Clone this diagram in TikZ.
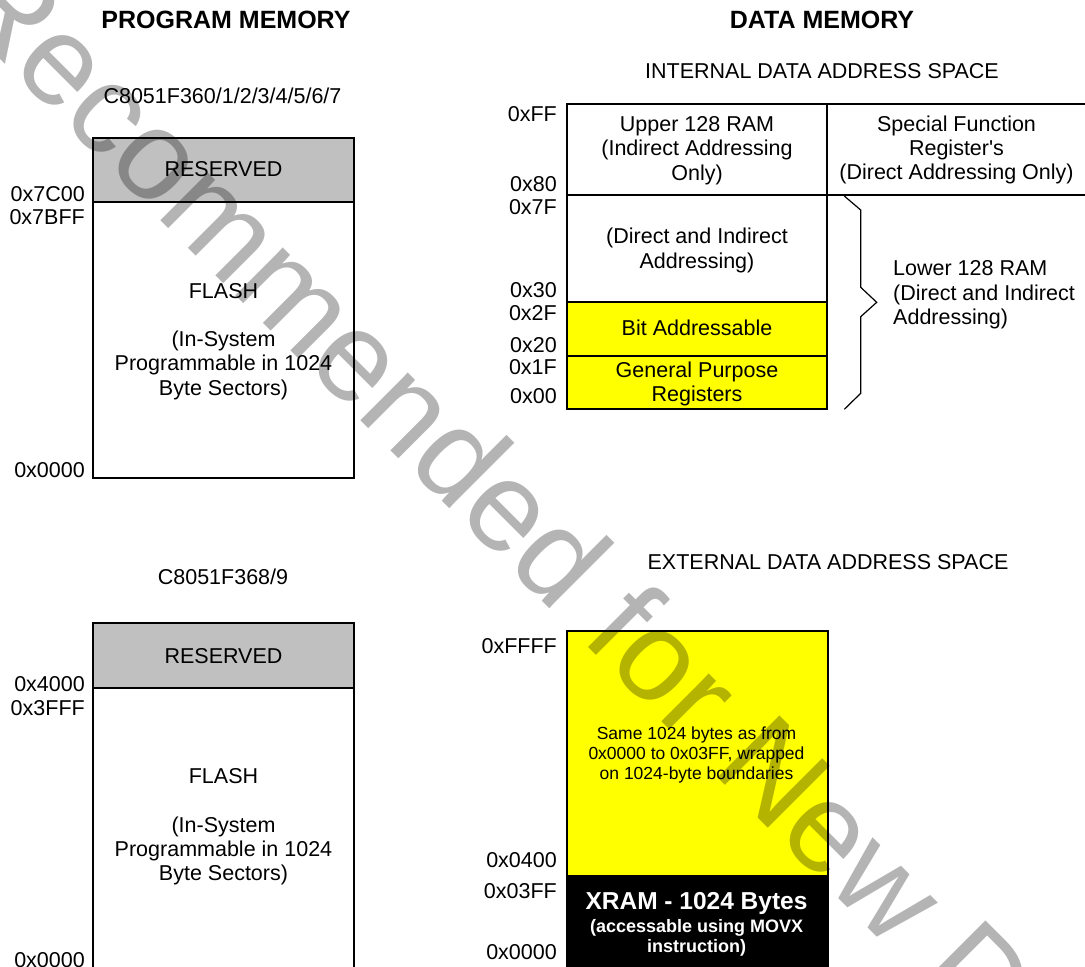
\documentclass[tikz,border=0pt]{standalone}
\usepackage{fontspec}
\setmainfont{Liberation Sans}[Ligatures=TeXOff]
\definecolor{resgray}{RGB}{192,192,192}
\definecolor{memyellow}{RGB}{255,255,0}
\definecolor{wmgray}{RGB}{180,180,180}
\tikzset{
  box/.style={draw=black, line width=2pt},
  lbl/.style={font=\fontsize{21.5}{24.3}\selectfont, inner sep=0pt, align=center},
  addr/.style={font=\fontsize{21.5}{24.3}\selectfont, inner sep=0pt, anchor=base east},
  head/.style={font=\fontsize{25}{28}\selectfont\bfseries, inner sep=0pt, anchor=base},
  subhead/.style={font=\fontsize{21.5}{24.3}\selectfont, inner sep=0pt, anchor=base},
  smalltxt/.style={font=\fontsize{17.5}{20}\selectfont, inner sep=0pt, align=center},
  bracestyle/.style={draw=black, line width=1.2pt, line join=miter},
  watermark/.style={font=\fontsize{127.5}{127.5}\selectfont, text=wmgray, inner sep=0pt, anchor=base west, rotate=-45}
}
\begin{document}
\begin{tikzpicture}[x={(1pt,0pt)}, y={(0pt,-1pt)}]
\useasboundingbox (0,0) rectangle (1085,967);
\clip (0,0) rectangle (1085,967);
\fill[white] (0,0) rectangle (1085,967);

% ---------- headings ----------
\node[head] (pmhead) at (226,28) {PROGRAM MEMORY};
\node[head] (dmhead) at (822,28) {DATA MEMORY};
\node[subhead] (dev1) at (222.5,103.7) {C8051F360/1/2/3/4/5/6/7};
\node[subhead] (dev2) at (223,584.7) {C8051F368/9};
\node[subhead] (intsp) at (822,78.7) {INTERNAL DATA ADDRESS SPACE};
\node[subhead] (extsp) at (828,569.7) {EXTERNAL DATA ADDRESS SPACE};

% ---------- program memory 1 ----------
\fill[resgray] (93,138) rectangle (354,202);
\draw[box] (93,138) rectangle (354,478);
\draw[box] (93,202) -- (354,202);
\node[subhead] (res1) at (223.5,176.7) {RESERVED};
\node[lbl] (flash1) at (223.5,341.5) {FLASH\\[24pt](In-System\\Programmable in 1024\\Byte Sectors)};
\node[addr] (a7c00) at (85,201.7) {0x7C00};
\node[addr] (a7bff) at (85,224.7) {0x7BFF};
\node[addr] (a0000p1) at (85,477.7) {0x0000};

% ---------- program memory 2 ----------
\fill[resgray] (93,623) rectangle (354,688);
\draw[box] (93,623) rectangle (354,985);
\draw[box] (93,688) -- (354,688);
\node[subhead] (res2) at (223.5,663.7) {RESERVED};
\node[lbl] (flash2) at (223.5,827) {FLASH\\[24pt](In-System\\Programmable in 1024\\Byte Sectors)};
\node[addr] (a4000) at (85,691.7) {0x4000};
\node[addr] (a3fff) at (85,715.7) {0x3FFF};
\node[addr] (a0000p2) at (85,967.2) {0x0000};

% ---------- internal data ----------
\fill[memyellow] (567,302) rectangle (827,409);
\draw[box] (567,104) rectangle (827,409);
\draw[box] (827,104) -- (1090,104);
\draw[box] (567,195) -- (1090,195);
\draw[box] (567,302) -- (827,302);
\draw[box] (567,356) -- (827,356);
\node[lbl] (upper) at (697,150.5) {Upper 128 RAM\\(Indirect Addressing\\Only)};
\node[lbl] (sfr) at (956.5,150) {Special Function\\Register's\\(Direct Addressing Only)};
\node[lbl] (dirind) at (697,250.5) {(Direct and Indirect\\Addressing)};
\node[subhead] (bitadr) at (697,335.7) {Bit Addressable};
\node[lbl] (gpr) at (697,384) {General Purpose\\Registers};
\node[lbl, align=left, anchor=west] (lower) at (893,295) {Lower 128 RAM\\(Direct and Indirect\\Addressing)};
\coordinate (brtop) at (844.3,196);
\coordinate (brbot) at (844.3,409.3);
\draw[bracestyle] (brtop) -- (860.7,210) -- (860.7,287.3) -- (876.7,302.3) -- (860.7,316.7) -- (860.7,393.3) -- (brbot);
\node[addr] (aff) at (557,121.7) {0xFF};
\node[addr] (a80) at (557,191.7) {0x80};
\node[addr] (a7f) at (557,214.7) {0x7F};
\node[addr] (a30) at (557,297.7) {0x30};
\node[addr] (a2f) at (557,320.7) {0x2F};
\node[addr] (a20) at (557,352.7) {0x20};
\node[addr] (a1f) at (557,374.7) {0x1F};
\node[addr] (a00) at (557,403.7) {0x00};

% ---------- external data ----------
\fill[memyellow] (567,631) rectangle (828,875);
\fill[black] (567,875) rectangle (828,985);
\draw[box] (567,631) rectangle (828,985);
\node[smalltxt] (wrap) at (696.5,754.7) {Same 1024 bytes as from\\0x0000 to 0x03FF, wrapped\\on 1024-byte boundaries};
\node[font=\fontsize{24.5}{26}\selectfont\bfseries, text=white, inner sep=0pt, anchor=base] (xram) at (696.5,909.8) {XRAM - 1024 Bytes};
\node[font=\fontsize{18}{20}\selectfont\bfseries, text=white, inner sep=0pt, align=center] (xramsub) at (696.7,938) {(accessable using MOVX\\instruction)};
\node[addr] (affff) at (557,653.7) {0xFFFF};
\node[addr] (a0400) at (557,867.7) {0x0400};
\node[addr] (a03ff) at (557,898.7) {0x03FF};
\node[addr] (a0000x) at (557,959.7) {0x0000};

% ---------- watermark ----------
\begin{scope}[blend mode=multiply]
\node[watermark] (wm) at (-55.9,3.5) {Recommended for New D};
\end{scope}
\end{tikzpicture}
\end{document}
